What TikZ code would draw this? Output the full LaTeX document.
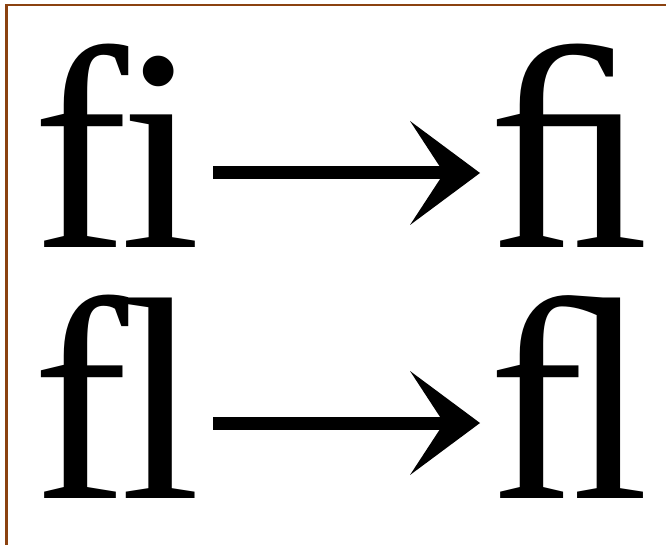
\documentclass[tikz,border=0pt]{standalone}
\usepackage{fontspec}
\usetikzlibrary{arrows.meta}
\newfontfamily\ligfont[Ligatures=NoCommon]{Liberation Serif}
\definecolor{framebrown}{RGB}{139,66,16}
\tikzset{
  ligtext/.style={anchor=base west, inner sep=0pt, outer sep=0pt,
    text height=200pt, text depth=0pt,
    font=\ligfont\fontsize{289}{290}\selectfont},
  frameline/.style={draw=framebrown, line width=2.6pt},
  bigarrow/.style={line width=13pt, line cap=butt,
    -{Stealth[length=70pt, width=104pt, inset=34pt, line width=0pt]}}
}
\begin{document}
\begin{tikzpicture}[x=1pt,y=1pt]
\useasboundingbox (0,0) rectangle (666,544);
\clip (0,0) rectangle (666,544);
\fill[white] (0,0) rectangle (666,544);
\draw[frameline] (6.5,-5) |- (680,538.8);
% row 1
\node[ligtext] (fiA) at (32,296) {f\kern-8pt i};
\node[ligtext] (fiB) at (488,296) {ﬁ};
\coordinate (arr1s) at (213,371);
\coordinate (arr1e) at (480,371);
\draw[bigarrow] (arr1s) -- (arr1e);
% row 2
\node[ligtext] (flA) at (32,46) {f\kern-8pt l};
\node[ligtext] (flB) at (488,46) {ﬂ};
\coordinate (arr2s) at (213,121);
\coordinate (arr2e) at (480,121);
\draw[bigarrow] (arr2s) -- (arr2e);
\end{tikzpicture}
\end{document}
